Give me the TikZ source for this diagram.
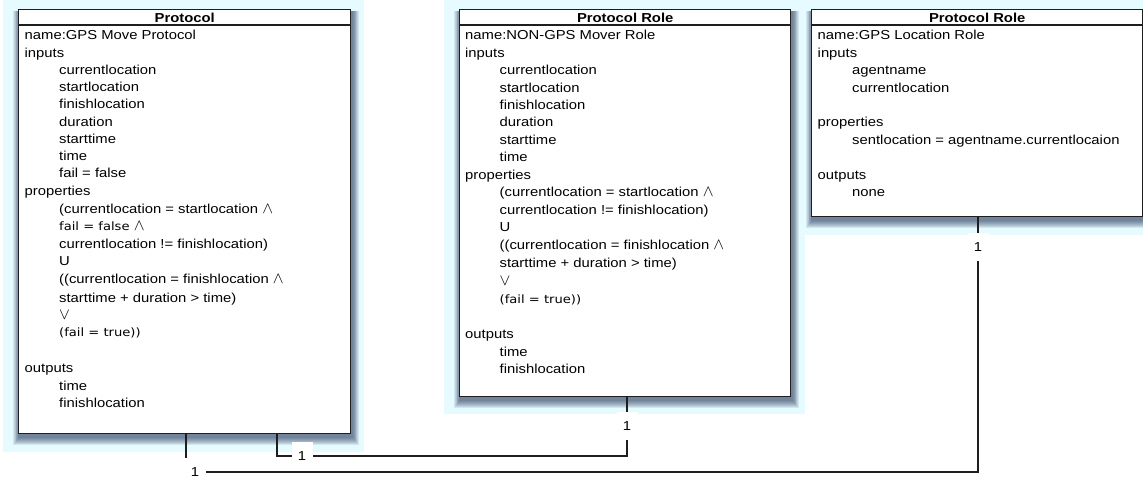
\documentclass[tikz,border=0pt]{standalone}
\usepackage{graphicx}
\usepackage{fontspec}
\setmainfont{Liberation Sans}[FakeStretch=1.14]
\newfontfamily\smallf{DejaVu Sans}[FakeStretch=1.14]
\pgfdeclarelayer{bg}
\pgfsetlayers{bg,main}
\definecolor{selbg}{RGB}{230,251,255}
\definecolor{shadowc}{RGB}{35,50,85}
\definecolor{inkc}{RGB}{30,30,30}
\tikzset{
  umlbox/.style={draw=inkc, line width=1.4pt, fill=white, inner sep=0pt, anchor=north west},
  boxtitle/.style={font=\bfseries\fontsize{13}{15}\selectfont, inner sep=0pt, anchor=base},
  bodyline/.style={font=\fontsize{13}{15}\selectfont, inner sep=0pt, anchor=base west},
  conn/.style={draw=inkc, line width=1.2pt},
  mult/.style={fill=white, inner sep=0pt, minimum width=21pt, minimum height=28pt,
    font=\fontsize{13}{15}\selectfont},
}
\newcommand\sm[1]{{\smallf\fontsize{11.5}{13}\selectfont #1}}
\newcommand\andop{\scalebox{1.35}{$\wedge$}}
\newcommand\orop{\scalebox{1.35}{$\vee$}}
\begin{document}
\begin{tikzpicture}[x=1pt,y=-1pt]
\useasboundingbox (0,0) rectangle (1143,478);

% class boxes
\node[umlbox, minimum width=332pt, minimum height=424pt] (p1) at (18,9) {};
\node[umlbox, minimum width=331pt, minimum height=387pt] (p2) at (459,9) {};
\node[umlbox, minimum width=331pt, minimum height=207pt] (p3) at (811,9) {};

% selection tint and soft drop shadows
\begin{pgfonlayer}{bg}
  \fill[selbg] (3,0) rectangle (364,452);
  \fill[selbg] (444,0) rectangle (804.5,414);
  \fill[selbg] (804.5,0) rectangle (1143,235);
  \foreach \b in {p1,p2,p3}{
    \foreach \k in {1,...,8}{
      \fill[shadowc, opacity=0.1]
        ([xshift=-\k*0.7pt+1pt, yshift=-2pt]\b.north west) rectangle
        ([xshift=\k*0.8pt+1pt, yshift=-\k*0.9pt-3pt]\b.south east);
    }
  }
\end{pgfonlayer}

% title compartments
\foreach \b in {p1,p2,p3}{
  \draw[inkc, line width=1.2pt] ([yshift=-16pt]\b.north west) -- ([yshift=-16pt]\b.north east);
}
\node[boxtitle] (t1) at ([yshift=-13.5pt]p1.north) {Protocol};
\node[boxtitle] (t2) at ([yshift=-13.5pt]p2.north) {Protocol Role};
\node[boxtitle] (t3) at ([yshift=-13.5pt]p3.north) {Protocol Role};

% GPS Move Protocol
\foreach \yy/\xx/\txt [count=\i] in {
  40/0/{name:GPS Move Protocol},
  57.2/0/inputs,
  74.5/1/currentlocation,
  91.7/1/startlocation,
  109/1/finishlocation,
  126.2/1/duration,
  143.5/1/starttime,
  160.7/1/time,
  178/1/{fail = false},
  195.2/0/properties,
  213.2/1/{(currentlocation = startlocation \andop},
  230.5/1/{\sm{fail = false \andop}},
  248.3/1/{currentlocation != finishlocation)},
  266/1/U,
  284/1/{((currentlocation = finishlocation \andop},
  302/1/{starttime + duration > time)},
  319.5/1/{\orop},
  336.7/1/{\sm{(fail = true))}},
  372.3/0/outputs,
  390/1/time,
  407.3/1/finishlocation}
  \node[bodyline] (a\i) at (24.5+34.5*\xx,\yy) {\txt};

% NON-GPS Mover Role
\foreach \yy/\xx/\txt [count=\i] in {
  40/0/{name:NON-GPS Mover Role},
  57.4/0/inputs,
  74.8/1/currentlocation,
  92.2/1/startlocation,
  109.6/1/finishlocation,
  127/1/duration,
  144.4/1/starttime,
  161.8/1/time,
  179.2/0/properties,
  196.8/1/{(currentlocation = startlocation \andop},
  214.4/1/{currentlocation != finishlocation)},
  232/1/U,
  249.8/1/{((currentlocation = finishlocation \andop},
  268/1/{starttime + duration > time)},
  285.5/1/{\orop},
  303.2/1/{\sm{(fail = true))}},
  338.5/0/outputs,
  356/1/time,
  373.5/1/finishlocation}
  \node[bodyline] (b\i) at (465+34.5*\xx,\yy) {\txt};

% GPS Location Role
\foreach \yy/\xx/\txt [count=\i] in {
  40/0/{name:GPS Location Role},
  57.4/0/inputs,
  74.8/1/agentname,
  92.2/1/currentlocation,
  127/0/properties,
  144.4/1/{sentlocation = agentname.currentlocaion},
  179.2/0/outputs,
  196.6/1/none}
  \node[bodyline] (c\i) at (817.5+34.5*\xx,\yy) {\txt};

% associations
\coordinate (r1) at (186,472);
\coordinate (r2) at (978,472);
\coordinate (s1) at (277,456);
\coordinate (s2) at (627,456);
\draw[conn] (p1.south -| r1) -- (r1) -- (r2) -- (p3.south -| r2);
\draw[conn] (p1.south -| s1) -- (s1) -- (s2) -- (p2.south -| s2);

% multiplicities
\node[mult] (m1) at (195,472) {1};
\node[mult] (m2) at (978,247) {1};
\node[mult] (m3) at (302,456) {1};
\node[mult] (m4) at (627,426) {1};
\end{tikzpicture}
\end{document}
